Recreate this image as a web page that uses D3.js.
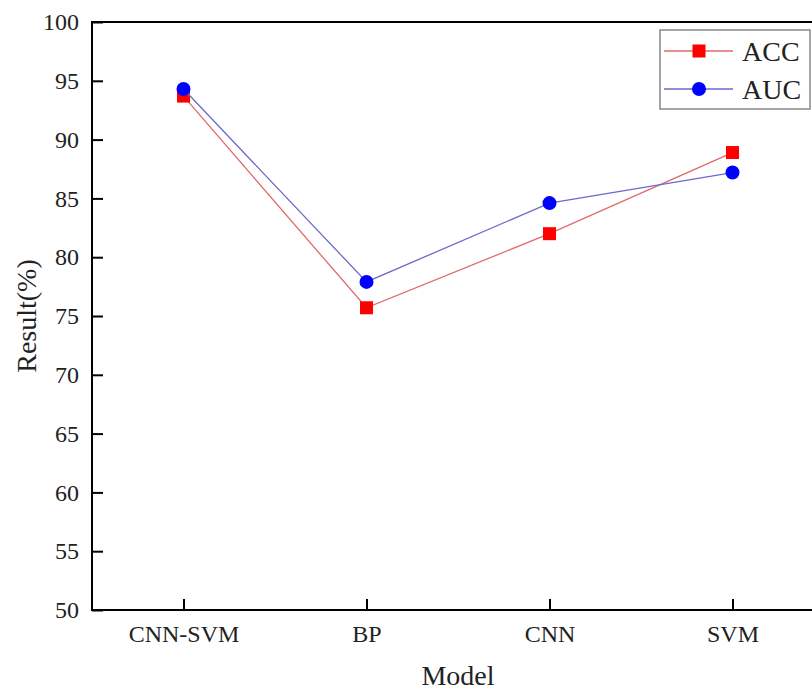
<!DOCTYPE html>
<html>
<head>
<meta charset="utf-8">
<script src="https://cdn.jsdelivr.net/npm/d3@7"></script>
<style>
  body { margin: 0; background: #fff; }
  svg { display: block; font-family: "Liberation Serif", "Times New Roman", serif; }
</style>
</head>
<body>
<svg id="chart"></svg>
<script>
const models = ["CNN-SVM", "BP", "CNN", "SVM"];
const accValues = [93.7, 75.7, 82.0, 88.9];
const aucValues = [94.3, 77.9, 84.6, 87.2];
const yTicks = [50, 55, 60, 65, 70, 75, 80, 85, 90, 95, 100];

const width = 812, height = 691;
const plot = {left: 92, right: 824, top: 22, bottom: 610};

const svg = d3.select("#chart").attr("width", width).attr("height", height);

const x = d3.scalePoint().domain(models).range([plot.left, plot.right]).padding(0.5);
const y = d3.scaleLinear().domain([50, 100]).range([plot.bottom, plot.top]);

// frame lines (left, bottom, top)
const frame = svg.append("g").attr("stroke", "#000").attr("stroke-width", 2);
frame.append("line").attr("x1", plot.left).attr("x2", plot.left).attr("y1", plot.top - 1).attr("y2", plot.bottom + 1);
frame.append("line").attr("x1", plot.left).attr("x2", plot.right).attr("y1", plot.bottom).attr("y2", plot.bottom);
frame.append("line").attr("x1", plot.left).attr("x2", plot.right).attr("y1", plot.top).attr("y2", plot.top);

// y axis, ticks pointing inward
const yAxis = d3.axisLeft(y).tickValues(yTicks).tickSizeInner(-11).tickSizeOuter(0).tickPadding(13);
const yG = svg.append("g").attr("transform", `translate(${plot.left},0)`).call(yAxis);
yG.select(".domain").remove();
yG.selectAll(".tick line").attr("stroke-width", 2);
yG.selectAll(".tick text").attr("font-size", 24).attr("font-family", "Liberation Serif").attr("fill", "#222");

// x axis, ticks pointing inward
const xAxis = d3.axisBottom(x).tickSizeInner(-11).tickSizeOuter(0).tickPadding(15);
const xG = svg.append("g").attr("transform", `translate(0,${plot.bottom})`).call(xAxis);
xG.select(".domain").remove();
xG.selectAll(".tick line").attr("stroke-width", 2);
xG.selectAll(".tick text").attr("font-size", 24).attr("font-family", "Liberation Serif").attr("fill", "#222");

// axis titles
svg.append("text")
  .attr("transform", `translate(36,${(plot.top + plot.bottom) / 2}) rotate(-90)`)
  .attr("text-anchor", "middle")
  .attr("font-size", 28)
  .attr("fill", "#222")
  .text("Result(%)");

svg.append("text")
  .attr("x", (plot.left + plot.right) / 2)
  .attr("y", 685)
  .attr("text-anchor", "middle")
  .attr("font-size", 28)
  .attr("fill", "#222")
  .text("Model");

const series = [
  {name: "ACC", values: accValues, line: "#e06a6a", fill: "#ff0000", shape: "square"},
  {name: "AUC", values: aucValues, line: "#6a6acc", fill: "#0000ff", shape: "circle"}
];

const line = d3.line().x(d => x(d.m)).y(d => y(d.v));

series.forEach(s => {
  const pts = models.map((m, i) => ({m: m, v: s.values[i]}));
  svg.append("path")
    .datum(pts)
    .attr("fill", "none")
    .attr("stroke", s.line)
    .attr("stroke-width", 1.3)
    .attr("d", line);
  if (s.shape === "square") {
    svg.selectAll(null).data(pts).join("rect")
      .attr("x", d => x(d.m) - 6.5).attr("y", d => y(d.v) - 6.5)
      .attr("width", 13).attr("height", 13)
      .attr("fill", s.fill);
  } else {
    svg.selectAll(null).data(pts).join("circle")
      .attr("cx", d => x(d.m)).attr("cy", d => y(d.v))
      .attr("r", 7)
      .attr("fill", s.fill);
  }
});

// legend
const legend = svg.append("g");
legend.append("rect")
  .attr("x", 660).attr("y", 30).attr("width", 150).attr("height", 79)
  .attr("fill", "#fff").attr("stroke", "#888").attr("stroke-width", 1.5);

series.forEach((s, i) => {
  const ly = 51 + i * 38;
  legend.append("line")
    .attr("x1", 664).attr("x2", 733).attr("y1", ly).attr("y2", ly)
    .attr("stroke", s.line).attr("stroke-width", 1.3);
  if (s.shape === "square") {
    legend.append("rect").attr("x", 699 - 6.5).attr("y", ly - 6.5).attr("width", 13).attr("height", 13).attr("fill", s.fill);
  } else {
    legend.append("circle").attr("cx", 699).attr("cy", ly).attr("r", 7).attr("fill", s.fill);
  }
  legend.append("text")
    .attr("x", 742).attr("y", ly + 10)
    .attr("font-size", 28)
    .attr("fill", "#222")
    .text(s.name);
});
</script>
</body>
</html>
